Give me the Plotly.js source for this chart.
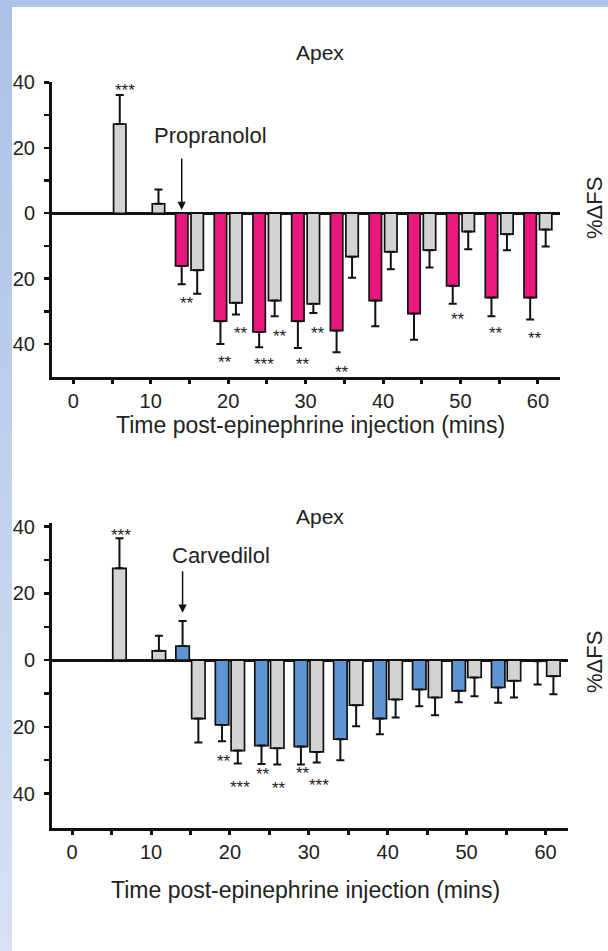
<!DOCTYPE html>
<html>
<head>
<meta charset="utf-8">
<script src="https://cdn.plot.ly/plotly-3.0.1.min.js"></script>
<style>
html,body{margin:0;padding:0;background:#fff;}
#wrap{position:relative;width:608px;height:951px;overflow:hidden;background:#fff;}
#bt{position:absolute;left:0;top:0;width:608px;height:7px;background:#aec4e8;}
#bl{position:absolute;left:0;top:0;width:12px;height:951px;background:linear-gradient(#aac1e7,#d6e1f3);}
#chart{position:absolute;left:0;top:0;width:608px;height:951px;}
</style>
</head>
<body>
<div id="wrap"><div id="bt"></div><div id="bl"></div><div id="chart"></div></div>
<script>
// ---------- data: top panel (Propranolol) ----------
const topGrayX   = [6, 11, 16, 21, 26, 31, 36, 41, 46, 51, 56, 61];
const topGrayVal = [27.3, 2.9, -17.4, -27.4, -26.7, -27.7, -13.3, -11.8, -11.3, -5.6, -6.4, -5.0];
const topGrayErr = [8.9, 4.4, 7.2, 3.6, 4.8, 2.8, 6.4, 5.3, 5.3, 5.4, 4.9, 5.2];
const topPinkX   = [14, 19, 24, 29, 34, 39, 44, 49, 54, 59];
const topPinkVal = [-16.1, -33.0, -36.3, -33.0, -35.9, -26.7, -30.7, -22.2, -25.8, -25.8];
const topPinkErr = [5.6, 7.0, 4.7, 8.2, 6.6, 7.9, 8.0, 5.5, 5.7, 6.7];
const topStarX    = [6, 14, 19, 21, 24, 26, 29, 31, 34, 49, 54, 59];
const topStarText = ['***','**','**','**','***','**','**','**','**','**','**','**'];

// ---------- data: bottom panel (Carvedilol) ----------
const botGrayX   = [6, 11, 16, 21, 26, 31, 36, 41, 46, 51, 56, 61];
const botGrayVal = [27.5, 2.8, -17.5, -27.1, -26.4, -27.5, -13.5, -11.8, -11.2, -5.2, -6.2, -4.8];
const botGrayErr = [9.0, 4.5, 7.2, 3.9, 4.9, 3.2, 6.3, 5.4, 5.3, 5.6, 5.0, 5.4];
const botBlueX   = [14, 19, 24, 29, 34, 39, 44, 49, 54, 59];
const botBlueVal = [4.2, -19.4, -25.6, -25.9, -23.7, -17.5, -8.8, -9.2, -8.2, -0.3];
const botBlueErr = [7.5, 4.9, 5.5, 5.4, 6.3, 4.7, 5.0, 3.4, 4.6, 7.0];
const botStarX    = [6, 19, 21, 24, 26, 29, 31];
const botStarText = ['***','**','***','**','**','**','***'];

// ---------- tick labels ----------
const yTickVals = [-40, -30, -20, -10, 0, 10, 20, 30, 40];
const yTickText = ['40', '', '20', '', '0', '', '20', '', '40'];
const xTickVals = [0, 5, 10, 15, 20, 25, 30, 35, 40, 45, 50, 55, 60];
const xTickText = ['0', '', '10', '', '20', '', '30', '', '40', '', '50', '', '60'];

const titleText = 'Apex';
const xTitleText = 'Time post-epinephrine injection (mins)';
const yTitleText = '%ΔFS';
const drugTop = 'Propranolol';
const drugBot = 'Carvedilol';
const drugTime = 14;

// ---------- styling ----------
const INK = '#111';
const TXT = '#222';
const FONT = '"Liberation Sans", Arial, Helvetica, sans-serif';
const GRAY = '#d3d3d3', PINK = '#e8187c', BLUE = '#5f95d3';

function errPlus(v, e) { return v.map((x, i) => x > 0 ? e[i] : 0); }
function errMinus(v, e) { return v.map((x, i) => x < 0 ? e[i] : 0); }

function barTrace(x, v, e, color, xa, ya, w, name) {
  return {
    type: 'bar', x: x, y: v, width: w, name: name, xaxis: xa, yaxis: ya,
    marker: {color: color, line: {color: INK, width: 1.7}},
    error_y: {type: 'data', symmetric: false, array: errPlus(v, e), arrayminus: errMinus(v, e),
              color: INK, thickness: 2, width: 4},
    showlegend: false, hoverinfo: 'skip'
  };
}

const traces = [
  barTrace(topGrayX, topGrayVal, topGrayErr, GRAY, 'x', 'y', 1.6, 'Epinephrine'),
  barTrace(topPinkX, topPinkVal, topPinkErr, PINK, 'x', 'y', 1.6, 'Propranolol'),
  barTrace(botGrayX, botGrayVal, botGrayErr, GRAY, 'x2', 'y2', 1.7, 'Epinephrine'),
  barTrace(botBlueX, botBlueVal, botBlueErr, BLUE, 'x2', 'y2', 1.7, 'Carvedilol')
];

// star placement (pixel gaps from error-bar end)
const topStarGap = [8, 15, 14, 15, 13, 16, 13, 17, 16, 12, 13, 15];
const botStarGap = [7, 16, 20, 7, 20, 5, 19];

function starAnns(sx, st, gaps, gX, gV, gE, cX, cV, cE, xa, ya, dx) {
  return sx.map((x, i) => {
    let k = gX.indexOf(x), v, e;
    if (k >= 0) { v = gV[k]; e = gE[k]; } else { k = cX.indexOf(x); v = cV[k]; e = cE[k]; }
    const up = v > 0;
    return {
      xref: xa, yref: ya, x: x, y: up ? v + e : v - e, text: st[i], showarrow: false,
      xanchor: 'center', yanchor: 'middle', xshift: dx,
      yshift: up ? gaps[i] - 4 : -(gaps[i] + 4),
      font: {family: FONT, size: 17, color: TXT}
    };
  });
}

function yAxis(domain, range, anchor) {
  return {
    domain: domain, range: range, anchor: anchor, tickvals: yTickVals, ticktext: yTickText,
    ticks: 'outside', ticklen: 5, tickwidth: 2.5, tickcolor: INK,
    showline: true, linewidth: 3, linecolor: INK, showgrid: false,
    zeroline: true, zerolinewidth: 3, zerolinecolor: INK,
    tickfont: {family: FONT, size: 20, color: TXT}, ticklabelstandoff: 5, fixedrange: true
  };
}
function xAxis(domain, range, anchor, standoff) {
  return {
    domain: domain, range: range, anchor: anchor, tickvals: xTickVals, ticktext: xTickText,
    ticks: 'outside', ticklen: 4, tickwidth: 3, tickcolor: INK,
    showline: true, linewidth: 3, linecolor: INK, showgrid: false, zeroline: false,
    tickfont: {family: FONT, size: 20, color: TXT}, ticklabelstandoff: standoff, fixedrange: true
  };
}

function txt(x, y, s, size, angle) {
  return {xref: 'paper', yref: 'paper', x: x, y: y, text: s, showarrow: false,
          xanchor: 'center', yanchor: 'middle', textangle: angle || 0,
          font: {family: FONT, size: size, color: TXT}};
}

const annotations = [
  txt(0.5263, 0.9443, titleText, 21),
  txt(0.5263, 0.4574, titleText, 21),
  txt(0.347, 0.858, drugTop, 22),
  txt(0.3635, 0.4164, drugBot, 22),
  txt(0.510, 0.5531, xTitleText, 23),
  txt(0.503, 0.0641, xTitleText, 23),
  txt(0.9786, 0.7813, yTitleText, 22, -90),
  txt(0.9786, 0.3039, yTitleText, 22, -90),
  {xref: 'x', yref: 'y', x: drugTime, y: 1, ax: 0, ay: -53, text: '', showarrow: true,
   arrowhead: 2, arrowsize: 1.1, arrowwidth: 1.5, arrowcolor: INK},
  {xref: 'x2', yref: 'y2', x: drugTime, y: 14.2, ax: 0, ay: -43, text: '', showarrow: true,
   arrowhead: 2, arrowsize: 1.1, arrowwidth: 1.5, arrowcolor: INK}
].concat(
  starAnns(topStarX, topStarText, topStarGap, topGrayX, topGrayVal, topGrayErr,
           topPinkX, topPinkVal, topPinkErr, 'x', 'y', 5),
  starAnns(botStarX, botStarText, botStarGap, botGrayX, botGrayVal, botGrayErr,
           botBlueX, botBlueVal, botBlueErr, 'x2', 'y2', 2)
);

const layout = {
  width: 608, height: 951,
  margin: {l: 0, r: 0, t: 0, b: 0, pad: 0},
  paper_bgcolor: 'rgba(0,0,0,0)', plot_bgcolor: 'rgba(0,0,0,0)',
  barmode: 'overlay', showlegend: false, hovermode: false,
  xaxis: xAxis([0.08553, 0.92105], [-2.75, 62.85], 'y', 0),
  yaxis: yAxis([0.60389, 0.91430], [-50, 40.3], 'x'),
  xaxis2: xAxis([0.08553, 0.93421], [-2.55, 62.85], 'y2', 0),
  yaxis2: yAxis([0.12934, 0.44974], [-50.3, 41], 'x2'),
  annotations: annotations
};

Plotly.newPlot('chart', traces, layout, {displayModeBar: false, staticPlot: true});
</script>
</body>
</html>
